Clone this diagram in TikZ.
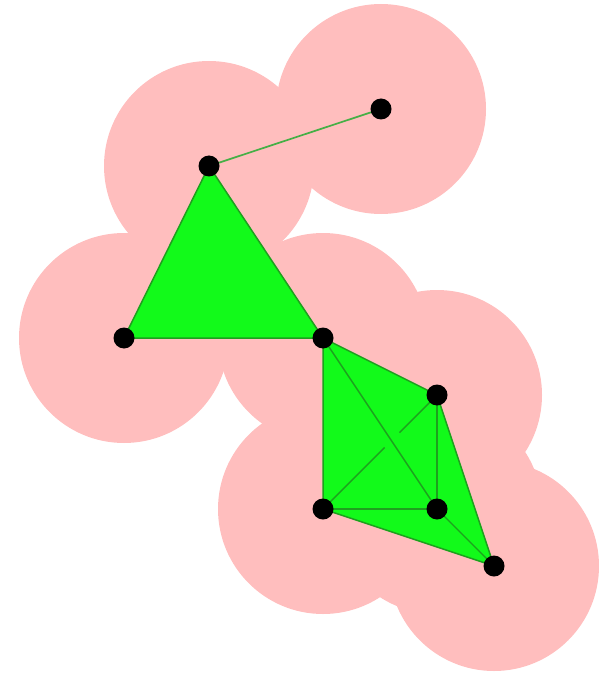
\documentclass[tikz,border=0pt]{standalone}
\usetikzlibrary{calc}
\definecolor{ballpink}{RGB}{255,190,190}
\definecolor{simpgreen}{RGB}{18,250,26}
\definecolor{edgegreen}{RGB}{30,160,30}
\definecolor{linkgreen}{RGB}{70,175,70}
\tikzset{
  ball/.style={fill=ballpink},
  simplex/.style={fill=simpgreen, draw=edgegreen, line width=1.5pt, line join=round},
  edge/.style={draw=edgegreen, line width=1.4pt},
  link/.style={draw=linkgreen, line width=1.7pt},
  vtx/.style={circle, fill=black, inner sep=0pt, minimum size=21pt},
}
\begin{document}
\begin{tikzpicture}[x=1pt, y=-1pt]
  \useasboundingbox (0,0) rectangle (598,676);
  \coordinate (A) at (381,109);
  \coordinate (B) at (209,166);
  \coordinate (C) at (124,338);
  \coordinate (D) at (323,338);
  \coordinate (E) at (437,395);
  \coordinate (F) at (323,509);
  \coordinate (G) at (437,509);
  \coordinate (H) at (494,566);
  \foreach \p in {A,B,C,D,E,F,G,H}
    \fill[ball] (\p) circle [radius=105pt];
  \draw[simplex] (B) -- (C) -- (D) -- cycle;
  \draw[simplex] (D) -- (E) -- (H) -- (F) -- cycle;
  \draw[edge] (D) -- (G);
  \draw[edge] (E) -- (G);
  \draw[edge] (F) -- (G);
  \draw[edge] (G) -- (H);
  \draw[edge] (E) -- ($(E)!0.33!(F)$);
  \draw[edge] ($(E)!0.46!(F)$) -- (F);
  \draw[link] (B) -- (A);
  \foreach \p in {A,B,C,D,E,F,G,H}
    \node[vtx] (v\p) at (\p) {};
\end{tikzpicture}
\end{document}
